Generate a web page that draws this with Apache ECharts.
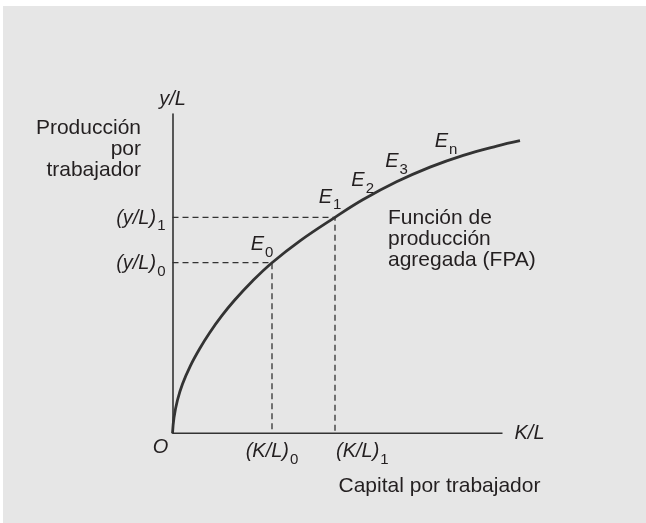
<!DOCTYPE html>
<html lang="es">
<head>
    <meta charset="UTF-8">
    <title>Función de producción agregada</title>
    <script src="https://cdn.jsdelivr.net/npm/echarts@6.0.0/dist/echarts.min.js"></script>
    <style>
        body { margin: 0; background: #fff; }
        #bg { position: absolute; left: 3px; top: 6px; width: 643px; height: 517px; background: #e6e6e6; }
        #demo { position: absolute; left: 0; top: 0; width: 646px; height: 523px; }
    </style>
</head>
<body>
<div id="bg"></div>
<div id="demo"></div>
<script>
    // curva FPA: capital por trabajador (K/L) -> produccion por trabajador (y/L)
    var curveK = [0, 1.5, 5, 10, 18, 27, 37, 49, 62, 80, 99.5, 127.5, 162.5, 190.2, 224, 257.5, 290.8, 324.2, 347.5];
    var curveY = [0, 15.8, 33.3, 49.3, 67.7, 84.3, 100.3, 117.1, 133, 152.3, 170.6, 192.5, 216, 233.5, 251.5, 266.2, 278, 287.2, 292.6];

    // puntos de equilibrio sobre la curva
    var eqSub = ['0', '1', '2', '3', 'n'];
    var eqK = [99.5, 162.5, 190.2, 224, 273.5];
    var eqY = [170.6, 216, 233.5, 251.5, 271.9];

    // valores marcados en los ejes
    var tickSub = ['0', '1'];
    var klTicks = [99.5, 162.5];
    var ylTicks = [170.6, 216];

    var xMax = 350, yMax = 319.3;
    var xAxisEnd = 330;   // el eje K/L termina antes que la curva

    var FONT = 'Liberation Sans, Arial, sans-serif';
    var INK = '#231f20';
    var rich = {
        m: { fontFamily: FONT, fontStyle: 'italic', fontSize: 20, color: INK },
        s: { fontFamily: FONT, fontSize: 15, color: INK, padding: [16, 0, 0, 1] }
    };

    var guideSeries = klTicks.map(function (k, i) {
        return {
            type: 'line',
            silent: true,
            symbol: 'circle',
            symbolSize: 0,
            showSymbol: true,
            clip: false,
            z: 2,
            lineStyle: { color: '#333', width: 1.3, type: [6, 4] },
            data: [
                { value: [0, ylTicks[i]], label: { show: true, position: 'left', distance: 7, offset: [0, 1],
                    formatter: '{m|(y/L)}{s|' + tickSub[i] + '}', rich: rich } },
                { value: [k, ylTicks[i]] },
                { value: [k, 0], label: { show: true, position: i == 0 ? 'bottom' : [1, 3], distance: 3,
                    formatter: '{m|(K/L)}{s|' + tickSub[i] + '}', rich: rich } }
            ]
        };
    });

    var eqOffsets = [[-10, -18], [-5, -20], [0, -19], [0, -20], [0, -20]];
    var eqData = eqK.map(function (k, i) {
        return {
            value: [k, eqY[i]],
            label: { offset: eqOffsets[i], formatter: '{m|E}{s|' + eqSub[i] + '}' }
        };
    });
    eqData.push({ value: [0, 0], label: { offset: [-12, 14], formatter: '{m|O}' } });

    var myChart = echarts.init(document.getElementById('demo'));
    var option = {
        animation: false,
        grid: { left: 172.5, top: 114, width: xMax, height: yMax },
        xAxis: {
            type: 'value', min: 0, max: xMax,
            axisLine: { show: false },
            axisTick: { show: false }, axisLabel: { show: false }, splitLine: { show: false }
        },
        yAxis: {
            type: 'value', min: 0, max: yMax,
            name: 'y/L', nameLocation: 'end', nameGap: 5,
            nameTextStyle: { fontFamily: FONT, fontStyle: 'italic', fontSize: 20, color: INK },
            axisLine: { lineStyle: { color: '#333', width: 1.6 } },
            axisTick: { show: false }, axisLabel: { show: false }, splitLine: { show: false }
        },
        graphic: [
            { type: 'text', x: 141, y: 118, silent: true,
              style: { text: 'Producción\npor\ntrabajador', align: 'right', verticalAlign: 'top',
                       lineHeight: 21, fontSize: 21, fontFamily: FONT, fill: INK } },
            { type: 'text', x: 388, y: 207.5, silent: true,
              style: { text: 'Función de\nproducción\nagregada (FPA)', align: 'left', verticalAlign: 'top',
                       lineHeight: 21, fontSize: 21, fontFamily: FONT, fill: INK } },
            { type: 'text', x: 338.5, y: 475.5, silent: true,
              style: { text: 'Capital por trabajador', align: 'left', verticalAlign: 'top',
                       lineHeight: 21, fontSize: 21, fontFamily: FONT, fill: INK } }
        ],
        series: [
            {
                // eje horizontal K/L
                type: 'line',
                silent: true,
                symbol: 'circle',
                symbolSize: 0,
                showSymbol: true,
                clip: false,
                z: 1,
                lineStyle: { color: '#333', width: 1.6 },
                data: [
                    [0, 0],
                    { value: [xAxisEnd, 0], label: { show: true, position: 'right', distance: 12,
                        formatter: '{m|K/L}', rich: rich } }
                ]
            },
            {
                name: 'FPA',
                type: 'line',
                silent: true,
                smooth: 0.4,
                showSymbol: false,
                clip: false,
                z: 3,
                lineStyle: { color: '#333', width: 2.8 },
                data: curveK.map(function (k, i) { return [k, curveY[i]]; })
            }
        ].concat(guideSeries).concat([
            {
                type: 'scatter',
                silent: true,
                symbolSize: 0,
                clip: false,
                z: 4,
                itemStyle: { opacity: 1 },
                label: { show: true, position: 'inside', rich: rich },
                data: eqData
            }
        ])
    };
    myChart.setOption(option);
</script>
</body>
</html>
